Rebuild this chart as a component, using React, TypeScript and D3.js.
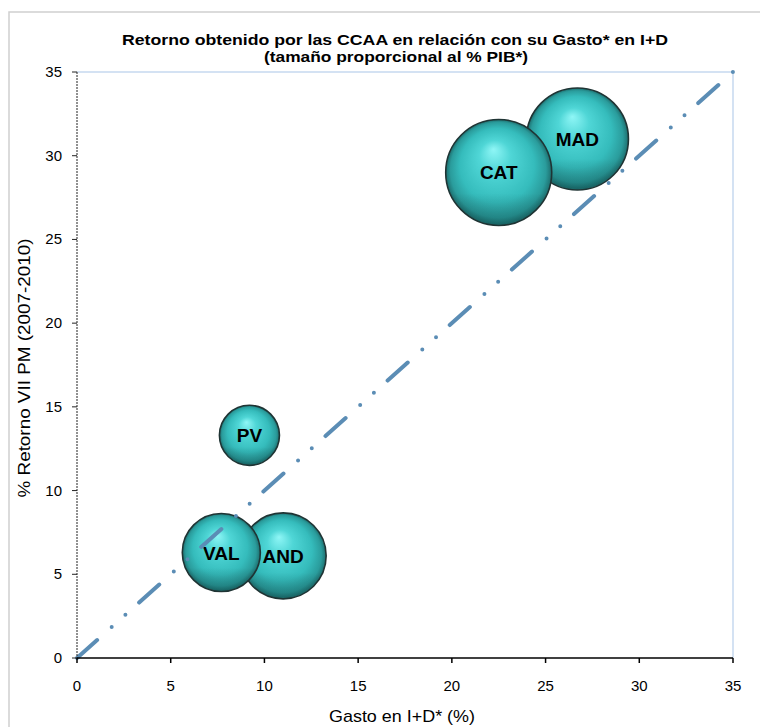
import * as d3 from "d3";

const W = 760;
const H = 727;
const M = { left: 77, right: 733, top: 72, bottom: 658 };

const regions = ["MAD", "CAT", "AND", "VAL", "PV"];
const gasto = [26.7, 22.5, 11.0, 7.7, 9.2];
const retorno = [31.0, 29.0, 6.1, 6.3, 13.3];
const pib = [17.6, 19.0, 12.5, 10.3, 6.1];
const ticks = [0, 5, 10, 15, 20, 25, 30, 35];
const diag = [0, 35];

const FONT = "'Liberation Sans', Arial, sans-serif";
const LINE = "#5b8db5";

export default function App() {
  const x = d3.scaleLinear().domain([0, 35]).range([M.left, M.right]);
  const y = d3.scaleLinear().domain([0, 35]).range([M.bottom, M.top]);
  const r = d3.scaleSqrt().domain([0, 19]).range([0, 53]);

  const line = d3
    .line<number>()
    .x((d) => x(d))
    .y((d) => y(d));

  return (
    <div style={{ position: "fixed", left: 0, top: 0, width: W, height: H, overflow: "hidden" }}>
      <svg width={W} height={H} style={{ display: "block", fontFamily: FONT }}>
        <defs>
          <radialGradient id="ball" cx="0.5" cy="0.5" r="0.5" fx="0.45" fy="0.28">
            <stop offset="0%" stopColor="#8ff6f6" />
            <stop offset="30%" stopColor="#4fd6d6" />
            <stop offset="70%" stopColor="#35bcbc" />
            <stop offset="90%" stopColor="#2a9c9c" />
            <stop offset="100%" stopColor="#1d6e6e" />
          </radialGradient>
          <linearGradient id="shade" x1="0" y1="0" x2="0" y2="1">
            <stop offset="0%" stopColor="#000" stopOpacity={0} />
            <stop offset="70%" stopColor="#000" stopOpacity={0} />
            <stop offset="100%" stopColor="#003030" stopOpacity={0.25} />
          </linearGradient>
        </defs>

        <rect x={0} y={0} width={W} height={H} fill="#fff" />
        {/* chart area border */}
        <path d={`M9,${H} V12 H${W}`} fill="none" stroke="#d0d0d0" strokeWidth={1.5} />

        {/* title, Excel spreads it wider than the font would */}
        <text x={395} y={45} textAnchor="middle" fontSize={15} fontWeight={700} fill="#000" textLength={546} lengthAdjust="spacingAndGlyphs">
          Retorno obtenido por las CCAA en relación con su Gasto* en I+D
        </text>
        <text x={396} y={62} textAnchor="middle" fontSize={15} fontWeight={700} fill="#000" textLength={264} lengthAdjust="spacingAndGlyphs">
          (tamaño proporcional al % PIB*)
        </text>

        {/* plot area frame */}
        <path
          d={`M${M.left},${M.top} H${M.right} V${M.bottom}`}
          fill="none"
          stroke="#c6d9f0"
          strokeWidth={1.5}
        />

        {/* bubbles */}
        {regions.map((name, i) => (
          <g key={name}>
            <circle cx={x(gasto[i])} cy={y(retorno[i])} r={r(pib[i])} fill="url(#ball)" stroke="#1f3434" strokeWidth={1.6} />
            <circle cx={x(gasto[i])} cy={y(retorno[i])} r={r(pib[i]) - 1} fill="url(#shade)" />
          </g>
        ))}
        {regions.map((name, i) => (
          <text key={name} x={x(gasto[i])} y={y(retorno[i]) + 7} textAnchor="middle" fontSize={19} fontWeight={700} fill="#000">
            {name}
          </text>
        ))}

        {/* y = x reference */}
        <path
          d={line(diag) ?? ""}
          fill="none"
          stroke={LINE}
          strokeWidth={4}
          strokeLinecap="round"
          strokeDasharray="27 19.5 0 18.4 0 18.4"
        />

        {/* y axis */}
        <line x1={M.left} x2={M.left} y1={M.top} y2={M.bottom} stroke="#222" strokeWidth={1} strokeDasharray="2 1" />
        {ticks.map((t) => (
          <g key={`y${t}`}>
            <line x1={M.left - 5} x2={M.left} y1={y(t)} y2={y(t)} stroke="#222" />
            <text x={M.left - 15} y={y(t) + 5} textAnchor="end" fontSize={15} fill="#000">
              {t}
            </text>
          </g>
        ))}

        {/* x axis */}
        <line x1={M.left} x2={M.right} y1={M.bottom} y2={M.bottom} stroke="#000" strokeWidth={1.5} />
        {ticks.map((t) => (
          <g key={`x${t}`}>
            <line x1={x(t)} x2={x(t)} y1={M.bottom} y2={M.bottom + 5} stroke="#000" strokeWidth={1.5} />
            <text x={x(t)} y={M.bottom + 33} textAnchor="middle" fontSize={15} fill="#000">
              {t}
            </text>
          </g>
        ))}

        <text x={402} y={722} textAnchor="middle" fontSize={17} fill="#000" textLength={146} lengthAdjust="spacingAndGlyphs">
          Gasto en I+D* (%)
        </text>
        <text
          transform={`translate(30,${368}) rotate(-90)`}
          textAnchor="middle"
          fontSize={17}
          fill="#000"
          textLength={259}
          lengthAdjust="spacingAndGlyphs"
        >
          % Retorno VII PM (2007-2010)
        </text>
      </svg>
    </div>
  );
}
